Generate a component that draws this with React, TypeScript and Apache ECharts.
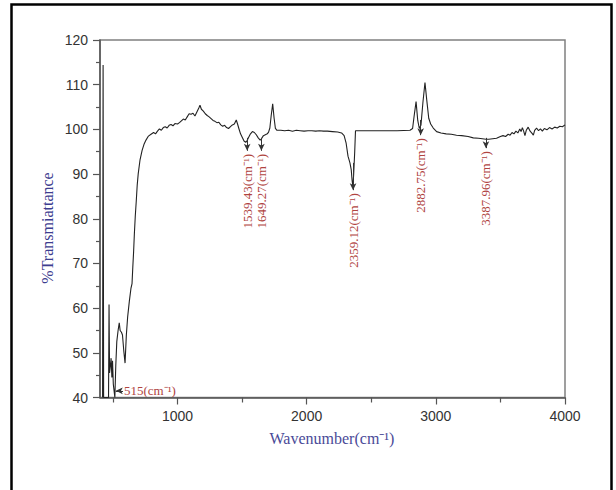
import React, { useEffect, useRef } from 'react';
import * as echarts from 'echarts';

// Spectrum
const wavenumbers = [
  420, 424, 428, 466, 470, 474, 480, 486, 492, 497, 503, 515, 522, 530, 540, 549, 556, 566, 574, 584,
  594, 604, 614, 627, 640, 648, 654, 660, 666, 673, 681, 688, 696, 710, 726, 740, 756, 775, 795, 815,
  830, 845, 860, 875, 890, 905, 920, 935, 950, 965, 980, 1000, 1015, 1030, 1045, 1060, 1075, 1090, 1105, 1120,
  1135, 1150, 1165, 1174, 1185, 1200, 1215, 1230, 1245, 1260, 1275, 1290, 1305, 1320, 1335, 1350, 1365, 1380, 1395, 1410,
  1425, 1440, 1455, 1465, 1475, 1488, 1500, 1515, 1528, 1539, 1550, 1565, 1580, 1595, 1610, 1625, 1640, 1650, 1665, 1680,
  1695, 1705, 1715, 1725, 1737, 1748, 1758, 1770, 1800, 1830, 1860, 1890, 1920, 1950, 1980, 2010, 2040, 2070, 2100, 2130,
  2160, 2200, 2240, 2270, 2290, 2305, 2320, 2335, 2345, 2352, 2358, 2364, 2372, 2378, 2400, 2500, 2600, 2700, 2800, 2820,
  2832, 2847, 2860, 2872, 2885, 2900, 2916, 2930, 2945, 2960, 2980, 3006, 3040, 3080, 3120, 3160, 3200, 3250, 3290, 3330,
  3360, 3388, 3410, 3440, 3470, 3500, 3520, 3540, 3560, 3575, 3590, 3605, 3620, 3635, 3650, 3660, 3670, 3680, 3690, 3700,
  3715, 3730, 3745, 3755, 3765, 3780, 3795, 3810, 3825, 3840, 3860, 3880, 3900, 3920, 3940, 3960, 3980, 4000,
];
const transmittance = [
  40, 114.4, 40, 40, 60.8, 45.5, 47, 48.8, 44.5, 48.2, 43, 40, 47, 52.5, 55, 56.7, 55, 54.6, 54, 50.5,
  47.7, 54, 58, 61.5, 64.5, 65.5, 69.2, 72.5, 76.6, 80.5, 84.1, 87.5, 90.1, 93.2, 95.3, 96.6, 97.6, 98.5, 98.9, 99.3,
  99.0, 99.6, 100.1, 99.8, 100.4, 100.6, 100.3, 100.9, 101.1, 100.8, 101.3, 101.2, 101.5, 101.9, 102.3, 102.1, 102.8, 103.5, 103.4, 103.6,
  103.0, 103.9, 104.8, 105.4, 104.5, 104.1, 103.5, 103.1, 102.8, 102.4, 102.0, 101.8, 101.5, 101.6, 101.0, 100.7, 100.9, 100.4, 100.2, 100.6,
  101.0, 101.2, 102.1, 101.2, 100.2, 99.0, 98.3, 97.4, 97.1, 97.5, 98.2, 99.0, 99.5, 99.3, 98.8, 98.1, 97.6, 97.9, 98.6, 98.8,
  99.0, 99.4, 100.3, 103.0, 105.7, 102.5, 100.2, 99.8, 99.8, 99.7, 99.8, 99.6, 99.8, 99.7, 99.6, 99.7, 99.7, 99.6, 99.7, 99.6,
  99.6, 99.5, 99.4, 99.2, 98.6, 97.0, 94.0, 92.5, 91.0, 88.5, 87.2, 90.0, 95.0, 99.7, 99.7, 99.7, 99.7, 99.7, 99.8, 100.2,
  103.0, 106.2, 102.0, 100.2, 101.0, 106.0, 110.5, 106.5, 102.5, 101.2, 100.3, 99.5, 99.2, 99.0, 98.9, 98.7, 98.6, 98.4, 98.1, 98.0,
  97.9, 97.8, 97.8, 97.9, 98.0, 98.4, 98.6, 98.4, 98.9, 98.7, 99.3, 99.0, 99.6, 99.2, 100.1, 99.5, 100.4, 99.6, 98.6, 99.8,
  100.5, 99.6, 99.1, 98.7, 99.8, 100.3, 99.7, 100.1, 99.6, 100.2, 99.9, 100.4, 100.1, 100.5, 100.3, 100.7, 100.6, 101.0,
];

const xMajorTicks = [1000, 2000, 3000, 4000];
const xMinorTicks = [500, 1500, 2500, 3500];

// Peak annotations
const peakWavenumbers = [1539.43, 1649.27, 2359.12, 2882.75, 3387.96];
const peakLabels = ['1539.43(cm⁻¹)', '1649.27(cm⁻¹)', '2359.12(cm⁻¹)', '2882.75(cm⁻¹)', '3387.96(cm⁻¹)'];
const arrowFrom = [98.1, 98.1, 92.5, 102.1, 98.1];
const arrowTo = [95.2, 95.2, 86.4, 98.7, 95.8];

const lowPeakLabel = '515(cm⁻¹)';
const lowArrowFrom = [578, 41.5];
const lowArrowTo = [522, 41.5];

export default function App() {
  const ref = useRef<HTMLDivElement>(null);
  useEffect(() => {
    if (!ref.current) return;
    const chart = echarts.init(ref.current, null, { renderer: 'svg' });
    const serif = '"Liberation Serif", "Times New Roman", serif';
    const sans = '"Liberation Sans", Arial, sans-serif';
    const markData: any[] = peakWavenumbers.map((w, i) => [
      { coord: [w, arrowFrom[i]] },
      { coord: [w, arrowTo[i]] },
    ]);
    markData.push([{ coord: lowArrowFrom }, { coord: lowArrowTo }]);

    chart.setOption({
      animation: false,
      backgroundColor: '#ffffff',
      grid: {
        left: 100, top: 40, right: 51, bottom: 92.5,
        show: true, borderColor: '#808080', borderWidth: 1.5, backgroundColor: 'transparent',
      },
      xAxis: [
        {
          type: 'value', min: 400, max: 4000,
          axisLine: { show: true, onZero: false, lineStyle: { color: '#555', width: 1.5 } },
          axisTick: { show: true, length: 7, customValues: xMajorTicks, lineStyle: { color: '#555', width: 1.2 } },
          axisLabel: {
            customValues: xMajorTicks, color: '#333', fontSize: 14, fontFamily: sans, margin: 11,
            formatter: (v: number) => String(v),
          },
          splitLine: { show: false },
        },
        {
          type: 'value', min: 400, max: 4000, position: 'bottom', offset: 0,
          axisLine: { show: false },
          axisTick: { show: true, length: 5, customValues: xMinorTicks, lineStyle: { color: '#555', width: 1.2 } },
          axisLabel: { show: false },
          splitLine: { show: false },
        },
      ],
      yAxis: {
        type: 'value', min: 40, max: 120, interval: 10,
        axisLine: { show: true, onZero: false, lineStyle: { color: '#555', width: 1.5 } },
        axisTick: { show: true, length: 7, lineStyle: { color: '#555', width: 1.2 } },
        minorTick: { show: true, splitNumber: 2, length: 4, lineStyle: { color: '#555', width: 1.2 } },
        axisLabel: { color: '#333', fontSize: 14, fontFamily: sans, margin: 12 },
        splitLine: { show: false },
        minorSplitLine: { show: false },
      },
      series: [
        {
          type: 'line',
          data: wavenumbers.map((w, i) => [w, transmittance[i]]),
          showSymbol: false,
          symbol: 'none',
          lineStyle: { color: '#222', width: 1.1 },
          markLine: {
            silent: true,
            symbol: ['none', 'arrow'],
            symbolSize: [5, 7],
            label: { show: false },
            lineStyle: { color: '#333', width: 1, type: 'solid' },
            data: markData,
          },
        },
      ],
    });

    const graphics: any[] = [
      {
        type: 'rect', shape: { x: 11.5, y: 4.5, width: 600, height: 520 },
        style: { fill: 'none', stroke: '#000', lineWidth: 2.5 }, z: 100,
      },
      {
        type: 'text', x: 47, y: 228, rotation: Math.PI / 2,
        style: { text: '%Transmiattance', fill: '#3d3d8f', fontSize: 16, fontFamily: serif, align: 'center', verticalAlign: 'middle' },
      },
      {
        type: 'text', x: 332, y: 438,
        style: { text: 'Wavenumber(cm⁻¹)', fill: '#4a4a98', fontSize: 16, fontFamily: serif, align: 'center', verticalAlign: 'middle' },
      },
    ];
    peakWavenumbers.forEach((w, i) => {
      const p = chart.convertToPixel({ gridIndex: 0 }, [w, arrowTo[i]]) as number[];
      graphics.push({
        type: 'text', x: p[0], y: p[1] + 3, rotation: Math.PI / 2,
        style: { text: peakLabels[i], fill: '#b0443f', fontSize: 13, fontFamily: serif, align: 'right', verticalAlign: 'middle' },
      });
    });
    const lp = chart.convertToPixel({ gridIndex: 0 }, lowArrowFrom) as number[];
    graphics.push({
      type: 'text', x: lp[0] + 1, y: lp[1],
      style: { text: lowPeakLabel, fill: '#b0443f', fontSize: 13, fontFamily: serif, align: 'left', verticalAlign: 'middle' },
    });
    chart.setOption({ graphic: graphics });

    return () => chart.dispose();
  }, []);
  return (
    <div
      ref={ref}
      style={{ position: 'fixed', left: 0, top: 0, width: 616, height: 490, background: '#fff' }}
    />
  );
}
